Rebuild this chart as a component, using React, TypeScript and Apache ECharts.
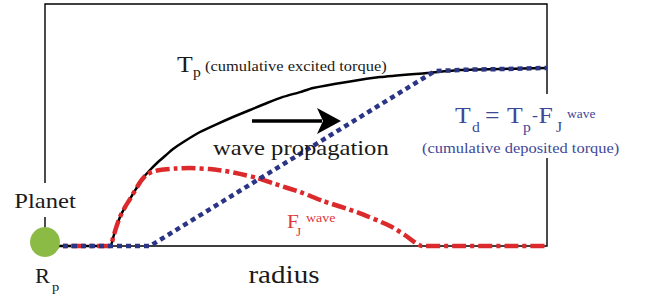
import React, { useEffect, useRef } from "react";
import * as echarts from "echarts";

// radius (arbitrary units 0..10), torque (arbitrary units 0..1)
const tpRadius = [0, 1.295, 1.355, 1.414, 1.494, 1.594, 1.693, 1.813, 1.952, 2.092, 2.231, 2.39, 2.55, 2.789, 3.088, 3.426, 3.745, 4.084, 4.422, 4.741, 5.08, 5.339, 6.016, 6.673, 7.61, 8.267, 9.064, 10];
const tpValue = [0, 0, 0.033, 0.074, 0.12, 0.161, 0.194, 0.236, 0.281, 0.314, 0.343, 0.372, 0.401, 0.434, 0.471, 0.504, 0.533, 0.562, 0.591, 0.616, 0.636, 0.653, 0.678, 0.698, 0.715, 0.727, 0.731, 0.736];

const fjRadius = [0, 1.295, 1.355, 1.414, 1.494, 1.594, 1.693, 1.813, 1.912, 2.012, 2.131, 2.291, 2.59, 2.888, 3.287, 3.586, 3.884, 4.223, 4.582, 5.08, 5.538, 6.215, 6.873, 7.171, 7.51, 10];
const fjValue = [0, 0, 0.033, 0.074, 0.12, 0.161, 0.194, 0.236, 0.269, 0.293, 0.306, 0.314, 0.32, 0.322, 0.318, 0.31, 0.298, 0.281, 0.256, 0.223, 0.186, 0.14, 0.083, 0.045, 0, 0];

const tdRadius = [0, 2.092, 7.769, 8.466, 9.064, 10];
const tdValue = [0, 0, 0.723, 0.729, 0.731, 0.736];

const SERIF = "Liberation Serif";
const NAVY_TEXT = "#3e4897";
const RED_TEXT = "#e0393c";
const SX = 1.12;

function txt(text: string, x: number, y: number, size: number, fill: string, align: string = "left") {
  return {
    type: "text",
    x,
    y,
    scaleX: SX,
    z: 100,
    style: {
      text,
      fill,
      fontSize: size,
      fontFamily: SERIF,
      fontWeight: "normal",
      textAlign: align,
      textVerticalAlign: "middle",
    },
  };
}

export default function App() {
  const ref = useRef<HTMLDivElement>(null);
  useEffect(() => {
    if (!ref.current) return;
    const chart = echarts.init(ref.current, undefined, { renderer: "svg" });
    const zip = (a: number[], b: number[]) => a.map((v, i) => [v, b[i]]);
    chart.setOption({
      animation: false,
      grid: { left: 45, top: 4, width: 502, height: 242, show: true, borderColor: "#000", borderWidth: 1.4, backgroundColor: "transparent" },
      xAxis: { type: "value", min: 0, max: 10, axisLine: { show: false }, axisTick: { show: false }, axisLabel: { show: false }, splitLine: { show: false } },
      yAxis: { type: "value", min: 0, max: 1, axisLine: { show: false }, axisTick: { show: false }, axisLabel: { show: false }, splitLine: { show: false } },
      series: [
        {
          type: "line", data: zip(tpRadius, tpValue), showSymbol: false, smooth: 0.2, clip: false, z: 2,
          lineStyle: { color: "#000", width: 2.5 },
        },
        {
          type: "line", data: zip(fjRadius, fjValue), showSymbol: false, smooth: 0.2, clip: false, z: 3,
          lineStyle: { color: "#dc2a2c", width: 4.5, type: [14, 4, 4, 4], cap: "butt" },
        },
        {
          type: "line", data: zip(tdRadius, tdValue), showSymbol: false, smooth: false, clip: false, z: 4,
          lineStyle: { color: "#2b3585", width: 4.5, type: [5, 4], cap: "butt" },
        },
      ],
      graphic: [
        { type: "rect", z: 90, shape: { x: 8, y: 183, width: 74, height: 34 }, style: { fill: "#fff" } },
        { type: "rect", z: 90, shape: { x: 538, y: 94, width: 18, height: 64 }, style: { fill: "#fff" } },
        { type: "circle", z: 100, shape: { cx: 45, cy: 242, r: 15 }, style: { fill: "#8cbb45" } },
        txt("Planet", 45, 200.6, 22, "#1a1a1a", "center"),
        txt("R", 35, 276.3, 20, "#1a1a1a"),
        txt("p", 52, 286.6, 13, "#1a1a1a"),
        txt("radius", 284, 274.2, 26, "#1a1a1a", "center"),
        txt("T", 177, 64.2, 23, "#1a1a1a"),
        txt("p", 193, 72.3, 14, "#1a1a1a"),
        txt("(cumulative excited torque)", 205, 65.4, 14.7, "#1a1a1a"),
        { type: "line", z: 100, shape: { x1: 252, y1: 121, x2: 322, y2: 121 }, style: { stroke: "#000", lineWidth: 3.5 } },
        { type: "polygon", z: 100, shape: { points: [[317, 108], [341, 121], [317, 134], [323, 121]] }, style: { fill: "#000" } },
        txt("wave propagation", 213, 147.6, 22, "#1a1a1a"),
        txt("T", 455, 115.2, 23, NAVY_TEXT),
        txt("d", 472, 127.3, 14, NAVY_TEXT),
        txt("=", 485, 115.2, 23, NAVY_TEXT),
        txt("T", 507, 115.2, 23, NAVY_TEXT),
        txt("p", 523, 127.3, 14, NAVY_TEXT),
        txt("-", 532, 116, 16, NAVY_TEXT),
        txt("F", 538.5, 115.2, 23, NAVY_TEXT),
        txt("J", 556, 127.3, 14, NAVY_TEXT),
        txt("wave", 567, 114, 12, NAVY_TEXT),
        txt("(cumulative deposited torque)", 422, 147.4, 14.7, NAVY_TEXT),
        txt("F", 287, 221.2, 19, RED_TEXT),
        txt("J", 296, 232, 12, RED_TEXT),
        txt("wave", 306, 217.8, 12.5, RED_TEXT),
      ],
    });
    return () => chart.dispose();
  }, []);
  return <div ref={ref} style={{ position: "fixed", left: 0, top: 0, width: 646, height: 295, background: "#fff" }} />;
}
